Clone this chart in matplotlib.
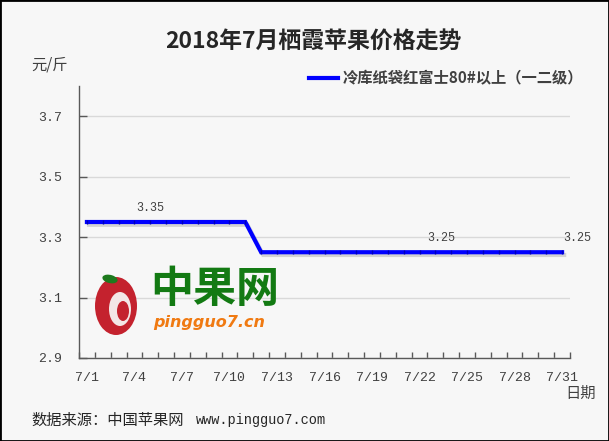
import matplotlib
matplotlib.use("Agg")
import matplotlib.pyplot as plt
import matplotlib.patheffects as pe
from matplotlib.patches import Rectangle, Ellipse
import numpy as np

# ---- data ----
dates = ["7/1", "7/2", "7/3", "7/4", "7/5", "7/6", "7/7", "7/8", "7/9", "7/10",
         "7/11", "7/12", "7/13", "7/14", "7/15", "7/16", "7/17", "7/18", "7/19",
         "7/20", "7/21", "7/22", "7/23", "7/24", "7/25", "7/26", "7/27", "7/28",
         "7/29", "7/30", "7/31"]
prices = [3.35, 3.35, 3.35, 3.35, 3.35, 3.35, 3.35, 3.35, 3.35, 3.35, 3.35,
          3.25, 3.25, 3.25, 3.25, 3.25, 3.25, 3.25, 3.25, 3.25, 3.25, 3.25,
          3.25, 3.25, 3.25, 3.25, 3.25, 3.25, 3.25, 3.25, 3.25]
shown_dates = ["7/1", "7/4", "7/7", "7/10", "7/13", "7/16", "7/19", "7/22",
               "7/25", "7/28", "7/31"]
yticks = [2.9, 3.1, 3.3, 3.5, 3.7]
series_name = "冷库纸袋红富士80#以上（一二级）"
title = "2018年7月栖霞苹果价格走势"
labelled = ["7/5", "7/24", "7/31"]

W, H = 609, 441
BG = "#F7F7F7"
TXT = "#404040"
CJK = ["Noto Sans CJK SC", "DejaVu Sans"]
MONO = ["Liberation Mono", "Noto Sans CJK SC"]

fig = plt.figure(figsize=(W / 100, H / 100), dpi=100, facecolor=BG)

def fx(px):
    return px / W

def fy(py):
    return 1 - py / H

ax = fig.add_axes([fx(79), fy(358), fx(570) - fx(79), fy(86) - fy(358)])
ax.set_facecolor(BG)

x = np.arange(len(dates))
ax.plot(x, prices, color="#0000FF", lw=3, solid_joinstyle="miter", zorder=5,
        path_effects=[pe.SimpleLineShadow(offset=(1.5, -2), shadow_color="#909090", alpha=0.35),
                      pe.Normal()])
ax.plot(x, prices, ls="none", marker="|", ms=3, mec="#0000B8", mew=1, zorder=6)

ax.set_xlim(-0.5, len(dates) - 0.5)
ax.set_ylim(2.9, 3.8)

pos = [dates.index(d) for d in shown_dates]
ax.set_xticks(pos)
ax.set_xticklabels(shown_dates, fontfamily=MONO, fontsize=9.5, color=TXT)
ax.tick_params(axis="x", which="major", length=0, pad=10)
ax.set_xticks(np.arange(-0.5, len(dates), 1.0), minor=True)
ax.tick_params(axis="x", which="minor", direction="in", length=4, width=1, color="#595959")

ax.set_yticks(yticks)
ax.set_yticklabels([f"{v:.1f}" for v in yticks], fontfamily=MONO, fontsize=9.5, color=TXT)
ax.tick_params(axis="y", direction="in", length=6, width=1, color="#595959", pad=12)
ax.yaxis.grid(True, color="#D9D9D9", lw=1)
ax.set_axisbelow(True)

for s in ["top", "right"]:
    ax.spines[s].set_visible(False)
for s in ["left", "bottom"]:
    ax.spines[s].set_color("#595959")
    ax.spines[s].set_linewidth(1)

# data labels (style offsets in points)
label_style = {"7/5": (0, 6, "center"), "7/24": (-7, 6, "center"), "7/31": (1, 6, "left")}
for d in labelled:
    i = dates.index(d)
    v = prices[i]
    dx, dy, ha = label_style[d]
    ax.annotate(f"{v:.2f}", (i, v), xytext=(dx, dy), textcoords="offset points",
                ha=ha, va="bottom", fontfamily=MONO, fontsize=8.5, color=TXT, zorder=7)

# texts
fig.text(fx(313), fy(42), title, ha="center", va="center", fontfamily=CJK,
         fontsize=16.5, fontweight="bold", color="#262626")
fig.text(fx(31), fy(65), "元/斤", ha="left", va="center", fontfamily=CJK,
         fontsize=11, color=TXT)
fig.lines.append(plt.Line2D([fx(309), fx(338)], [fy(78), fy(78)], color="#0000FF",
                            lw=3, transform=fig.transFigure))
fig.text(fx(343), fy(78), series_name, ha="left", va="center", fontfamily=CJK,
         fontsize=11, fontweight="bold", color=TXT)
fig.text(fx(596), fy(393), "日期", ha="right", va="center", fontfamily=CJK,
         fontsize=11, color=TXT)
fig.text(fx(31), fy(420), "数据来源：中国苹果网", ha="left", va="center",
         fontfamily=CJK, fontsize=11, color="#262626")
fig.text(fx(196), fy(420), "www.pingguo7.com", ha="left", va="center",
         fontfamily=MONO, fontsize=9.8, color="#262626")

# watermark logo
fig.text(fx(150), fy(289), "中果网", ha="left", va="center", fontfamily=CJK,
         fontsize=31, fontweight="bold", color="#137A13")
fig.text(fx(153), fy(323), "pingguo7.cn", ha="left", va="center",
         fontfamily=["DejaVu Sans"], fontsize=11.5, fontweight="bold",
         style="italic", color="#F07A12")
fig.patches.append(Ellipse((fx(116), fy(306)), fx(42), 58 / H, transform=fig.transFigure,
                           facecolor="#C4222E", edgecolor="none", zorder=3))
fig.patches.append(Ellipse((fx(120), fy(309)), fx(22), 34 / H, transform=fig.transFigure,
                           facecolor="#F3E6E6", edgecolor="none", zorder=4))
fig.patches.append(Ellipse((fx(123), fy(311)), fx(12), 20 / H, transform=fig.transFigure,
                           facecolor="#C4222E", edgecolor="none", zorder=5))
fig.patches.append(Ellipse((fx(110), fy(279)), fx(16), 8 / H, angle=-25,
                           transform=fig.transFigure,
                           facecolor="#1E7A1E", edgecolor="none", zorder=5))

# border
fig.patches.append(Rectangle((0, 0), 1, 1, transform=fig.transFigure, fill=False,
                             edgecolor="black", lw=2, zorder=10))

fig.savefig("out.png", dpi=100, facecolor=BG)
